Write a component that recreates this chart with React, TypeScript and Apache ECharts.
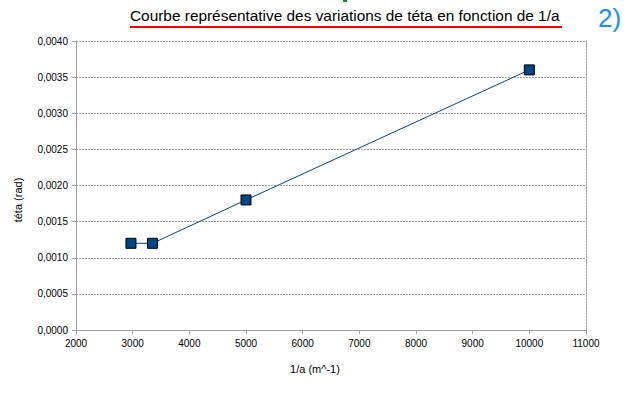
import React, { useEffect, useRef } from "react";
import * as echarts from "echarts";

const invA = [2970, 3350, 5000, 10000];
const teta = [0.0012, 0.0012, 0.0018, 0.0036];
const titleText = "Courbe représentative des variations de téta en fonction de 1/a";
const xName = "1/a (m^-1)";
const yName = "téta (rad)";

export default function App() {
  const ref = useRef<HTMLDivElement>(null);
  useEffect(() => {
    const chart = echarts.init(ref.current!, null, { renderer: "svg" });
    const font = "Liberation Sans, Arial, sans-serif";
    const gridLine = { show: true, lineStyle: { color: "#a0a0a0", type: [2, 1] as any, width: 1 } };
    chart.setOption({
      animation: false,
      backgroundColor: "#ffffff",
      grid: { left: 76, right: 46, top: 41, bottom: 63, containLabel: false },
      xAxis: [
        {
          type: "value",
          min: 2000,
          max: 11000,
          interval: 1000,
          axisLine: { show: true, lineStyle: { color: "#a0a0a0", width: 1 } },
          axisTick: { show: true, length: 4, lineStyle: { color: "#a0a0a0" } },
          axisLabel: { color: "#000", fontFamily: font, fontSize: 10, margin: 8, formatter: (v: number) => String(v) },
          splitLine: { show: false },
        },
      ],
      yAxis: [
        {
          type: "value",
          min: 0,
          max: 0.004,
          interval: 0.0005,
          axisLine: { show: true, lineStyle: { color: "#a0a0a0", width: 1 } },
          axisTick: { show: true, length: 4, lineStyle: { color: "#a0a0a0" } },
          axisLabel: {
            color: "#000",
            fontFamily: font,
            fontSize: 10,
            margin: 8,
            formatter: (v: number) => v.toFixed(4).replace(".", ","),
          },
          splitLine: gridLine,
        },
        {
          type: "value",
          position: "right",
          min: 0,
          max: 0.004,
          interval: 0.0005,
          axisLine: gridLine,
          axisTick: { show: false },
          axisLabel: { show: false },
          splitLine: { show: false },
        },
      ],
      series: [
        {
          type: "line",
          data: invA.map((x, i) => [x, teta[i]]),
          symbol: "rect",
          symbolSize: 10,
          lineStyle: { color: "#004586", width: 1 },
          itemStyle: { color: "#004586", borderColor: "#000", borderWidth: 1 },
        },
      ],
      graphic: [
        {
          type: "text",
          left: 130,
          top: 8,
          style: { text: titleText, fontFamily: font, fontSize: 15.4, fill: "#000" },
        },
        {
          type: "rect",
          shape: { x: 130, y: 26, width: 432, height: 2 },
          style: { fill: "#ff0000" },
        },
        {
          type: "text",
          left: 598,
          top: 5,
          style: { text: "2)", fontFamily: font, fontSize: 26, fill: "#1e8cff" },
        },
        {
          type: "rect",
          shape: { x: 343, y: 0, width: 4, height: 2 },
          style: { fill: "#2a8a2a" },
        },
        {
          type: "text",
          x: 18,
          y: 200,
          rotation: Math.PI / 2,
          style: { text: yName, fontFamily: font, fontSize: 11, fill: "#000", align: "center", verticalAlign: "middle" },
        },
        {
          type: "text",
          x: 315,
          y: 369,
          style: { text: xName, fontFamily: font, fontSize: 11, fill: "#000", align: "center", verticalAlign: "middle" },
        },
      ],
    });
    return () => chart.dispose();
  }, []);
  return <div ref={ref} style={{ position: "fixed", left: 0, top: 0, width: 632, height: 393 }} />;
}
